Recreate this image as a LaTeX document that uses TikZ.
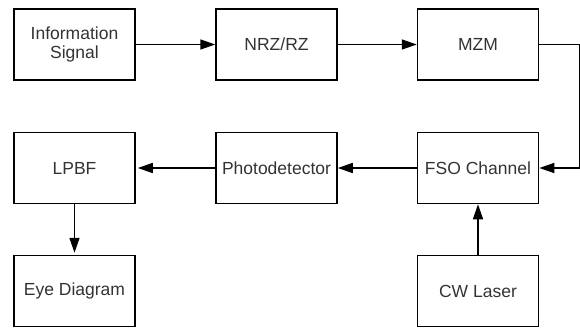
\documentclass[tikz,border=0pt]{standalone}
\usepackage{fontspec}
\setmainfont{Liberation Sans}
\usetikzlibrary{arrows.meta}

\begin{document}
\begin{tikzpicture}[x=1pt, y=1pt,
    block/.style={draw=black, line width=1.5pt, minimum width=121pt, minimum height=71pt,
      inner sep=0pt, align=center, text=black!80, font=\fontsize{17.5}{18.5}\selectfont},
    link/.style={line width=1.5pt, -{Triangle[length=15pt, width=10pt]}}]
  % Rahmen
  \useasboundingbox (0,0) rectangle (580,327);
  % Bloecke (Name/x/y/Text)
  \foreach \name/\x/\y/\txt in {info/74.5/282.5/{Information\\Signal}, nrz/276.5/282.5/{NRZ/RZ},
      mzm/478/282.5/{MZM}, lpbf/74.5/159/{LPBF}, photo/276.5/159/{Photodetector},
      fso/478/159/{FSO Channel}, eye/74.5/36/{Eye Diagram}, laser/478/36/{CW Laser}} {
    \node[block] (\name) at (\x,\y) {\txt};
  }
  % Verbindungen
  \draw[link] (info) -- (nrz);
  \draw[link] (nrz) -- (mzm);
  \draw[link] (mzm.east) -- ++(40,0) |- (fso.east);
  \draw[link] (fso) -- (photo);
  \draw[link, shorten >=2pt] (photo) -- (lpbf);
  \draw[link, shorten >=2pt] (lpbf) -- (eye);
  \draw[link] (laser) -- (fso);
\end{tikzpicture}
\end{document}
